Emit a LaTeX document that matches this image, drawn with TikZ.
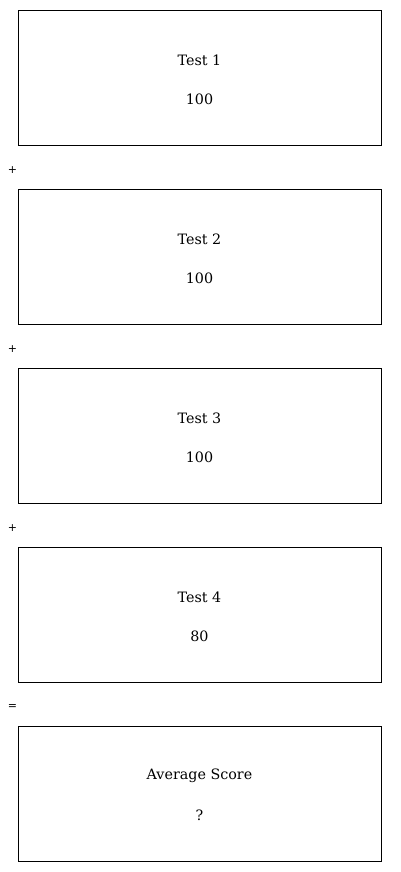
\documentclass[tikz,border=0pt]{standalone}
\usepackage{fontspec}
\setmainfont{DejaVu Serif}
\newfontfamily\opfont{DejaVu Sans}
\begin{document}
\begin{tikzpicture}[x=1pt,y=-1pt,
  testbox/.style={draw=black,line width=0.9pt,minimum width=363pt,minimum height=135pt,inner sep=0pt},
  lbl/.style={font=\fontsize{14.3}{17}\selectfont,inner sep=0pt,anchor=center},
  op/.style={font=\opfont\fontsize{11}{13}\selectfont,inner sep=0pt,anchor=center}]
\useasboundingbox (0,0) rectangle (400,872);
\foreach \i/\t/\v in {0/Test 1/100,1/Test 2/100,2/Test 3/100,3/Test 4/80,4/Average Score/?}{
  \node[testbox] (b\i) at (199.5,{77.5+179*\i}) {};
  \node[lbl] (t\i) at (199.5,{60+179*\i}) {\t};
  \node[lbl] (v\i) at (199.5,{99+179*\i}) {\v};
}
\foreach \i in {0,1,2}{
  \node[op] (p\i) at (12.5,{170+179*\i}) {+};
}
\node[op] (eq) at (12.5,706.5) {=};
\end{tikzpicture}
\end{document}
